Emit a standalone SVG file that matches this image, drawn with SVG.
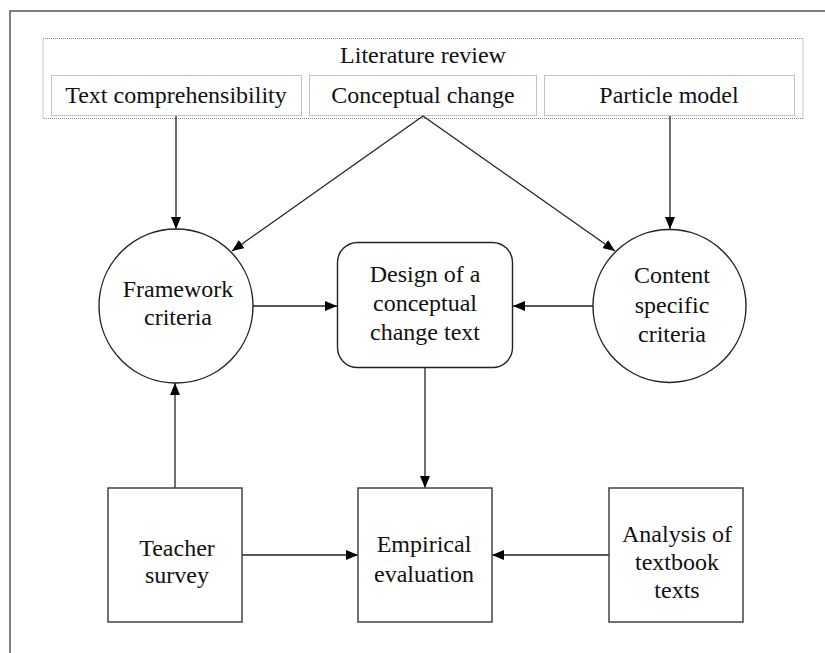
<svg xmlns="http://www.w3.org/2000/svg" width="825" height="653" viewBox="0 0 825 653">
  <style>
    text { font-family: "Liberation Serif", "Times New Roman", serif; font-size: 24px; fill: #111; text-anchor: middle; }
    .frame { fill: none; stroke: #555; stroke-width: 1.5; }
    .dotted { fill: none; stroke: #888; stroke-width: 1; stroke-dasharray: 1 1; }
    .node { fill: #fff; stroke: #222; stroke-width: 1.4; }
    .box { fill: #fff; stroke: #444; stroke-width: 1.5; }
    .edge { fill: none; stroke: #222; stroke-width: 1.3; marker-end: url(#arrow); }
  </style>
  <defs>
    <marker id="arrow" viewBox="0 0 12 10" refX="12" refY="5" markerWidth="12" markerHeight="10" markerUnits="userSpaceOnUse" orient="auto">
      <path d="M0,0 L12,5 L0,10 Z" fill="#000"/>
    </marker>
  </defs>

  <rect width="825" height="653" fill="#fff"/>
  <!-- page frame running off the right and bottom edges -->
  <rect class="frame" x="10" y="11" width="840" height="670"/>

  <!-- literature review block -->
  <g id="literature-review">
    <rect class="dotted" x="43" y="38.5" width="760" height="80"/>
    <text x="423" y="63">Literature review</text>
  </g>
  <g id="text-comprehensibility">
    <rect class="dotted" x="51.5" y="75.5" width="250" height="40"/>
    <text x="176" y="103">Text comprehensibility</text>
  </g>
  <g id="conceptual-change">
    <rect class="dotted" x="309.5" y="75.5" width="227" height="40"/>
    <text x="423" y="103">Conceptual change</text>
  </g>
  <g id="particle-model">
    <rect class="dotted" x="544.5" y="75.5" width="250" height="40"/>
    <text x="669" y="103">Particle model</text>
  </g>

  <!-- connectors -->
  <g id="connectors">
    <line class="edge" x1="176" y1="116" x2="176" y2="229"/>
    <line class="edge" x1="670" y1="116" x2="670" y2="229"/>
    <line class="edge" x1="423" y1="116" x2="232" y2="251"/>
    <line class="edge" x1="423" y1="116" x2="615" y2="251"/>
    <line class="edge" x1="253" y1="306" x2="337" y2="306"/>
    <line class="edge" x1="593" y1="306" x2="513" y2="306"/>
    <line class="edge" x1="425" y1="367" x2="425" y2="488"/>
    <line class="edge" x1="175" y1="488" x2="175" y2="383"/>
    <line class="edge" x1="242" y1="555" x2="358" y2="555"/>
    <line class="edge" x1="609" y1="555" x2="492" y2="555"/>
  </g>

  <g id="framework-criteria">
    <circle class="node" cx="176" cy="306" r="77"/>
    <text x="178" y="297">Framework</text>
    <text x="178" y="325">criteria</text>
  </g>

  <g id="design-text">
    <rect class="node" x="337.5" y="242.5" width="175" height="125" rx="20"/>
    <text x="425" y="282">Design of a</text>
    <text x="425" y="311">conceptual</text>
    <text x="425" y="340">change text</text>
  </g>

  <g id="content-specific-criteria">
    <circle class="node" cx="669.5" cy="306" r="76.5"/>
    <text x="672" y="283">Content</text>
    <text x="672" y="313">specific</text>
    <text x="672" y="342">criteria</text>
  </g>

  <g id="teacher-survey">
    <rect class="box" x="108" y="488" width="134" height="134"/>
    <text x="177" y="556">Teacher</text>
    <text x="177" y="583">survey</text>
  </g>

  <g id="empirical-evaluation">
    <rect class="box" x="358" y="488" width="134" height="134"/>
    <text x="424" y="552">Empirical</text>
    <text x="424" y="582">evaluation</text>
  </g>

  <g id="textbook-analysis">
    <rect class="box" x="609" y="488" width="134" height="134"/>
    <text x="677" y="542">Analysis of</text>
    <text x="677" y="570">textbook</text>
    <text x="677" y="598">texts</text>
  </g>
</svg>
